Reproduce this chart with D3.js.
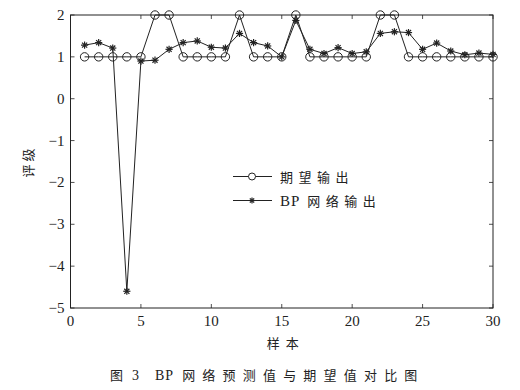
<!DOCTYPE html>
<html><head><meta charset="utf-8">
<script src="https://cdn.jsdelivr.net/npm/d3@7/dist/d3.min.js"></script>
<style>body{margin:0;background:#fff}svg{display:block}</style>
</head><body>
<script>
const samples = d3.range(1, 31);
const expected = [1,1,1,1,1,2,2,1,1,1,1,2,1,1,1,2,1,1,1,1,1,2,2,1,1,1,1,1,1,1];
const bpOutput = [1.28,1.34,1.21,-4.6,0.90,0.92,1.18,1.34,1.38,1.23,1.21,1.56,1.34,1.26,1.0,1.87,1.18,1.08,1.22,1.08,1.12,1.56,1.60,1.58,1.18,1.33,1.14,1.05,1.09,1.06];
const xTicks = [0,5,10,15,20,25,30];
const yTicks = [-5,-4,-3,-2,-1,0,1,2];
const legendLabels = ["期望输出","网络输出"];

const W=520,H=390;
const m={l:70.5,r:27,t:15,b:82};
const svg=d3.select("body").append("svg").attr("width",W).attr("height",H);
const x=d3.scaleLinear().domain([0,30]).range([m.l,W-m.r]);
const y=d3.scaleLinear().domain([-5,2]).range([H-m.b,m.t]);
const serif="'Liberation Serif','Times New Roman',serif";
const cjk="'Noto Sans CJK SC',sans-serif";
const col="#222";

svg.append("rect").attr("x",x(0)).attr("y",y(2)).attr("width",x(30)-x(0)).attr("height",y(-5)-y(2))
 .attr("fill","none").attr("stroke",col).attr("stroke-width",1);

const tl=4;
const g=svg.append("g").attr("stroke",col).attr("stroke-width",0.8);
xTicks.forEach(t=>{
  g.append("line").attr("x1",x(t)).attr("x2",x(t)).attr("y1",y(-5)).attr("y2",y(-5)-tl);
  g.append("line").attr("x1",x(t)).attr("x2",x(t)).attr("y1",y(2)).attr("y2",y(2)+tl);
});
yTicks.forEach(t=>{
  g.append("line").attr("x1",x(0)).attr("x2",x(0)+tl).attr("y1",y(t)).attr("y2",y(t));
  g.append("line").attr("x1",x(30)).attr("x2",x(30)-tl).attr("y1",y(t)).attr("y2",y(t));
});
svg.append("g").selectAll("text").data(xTicks).join("text")
 .attr("x",d=>x(d)).attr("y",y(-5)+18).attr("text-anchor","middle")
 .attr("font-family",serif).attr("font-size",15).attr("fill",col).text(d=>d);
svg.append("g").selectAll("text").data(yTicks).join("text")
 .attr("x",x(0)-6).attr("y",d=>y(d)+5).attr("text-anchor","end")
 .attr("font-family",serif).attr("font-size",15).attr("fill",col).text(d=>d<0?"\u2212"+(-d):d);

svg.append("text").attr("x",(x(0)+x(30))/2+4).attr("y",348).attr("text-anchor","middle")
 .attr("font-family",cjk).attr("font-size",13).attr("fill",col).attr("letter-spacing",6).text("样本");
svg.append("text").attr("transform",`translate(33,${(y(2)+y(-5))/2}) rotate(-90)`).attr("text-anchor","middle")
 .attr("font-family",cjk).attr("font-size",13).attr("fill",col).attr("letter-spacing",3).text("评级");

const cap=svg.append("text").attr("x",110).attr("y",380)
 .attr("font-size",13).attr("fill",col);
cap.append("tspan").attr("font-family",cjk).text("图");
cap.append("tspan").attr("font-family",serif).attr("font-size",14).attr("dx",9).text("3");
cap.append("tspan").attr("font-family",serif).attr("font-size",14).attr("dx",16).attr("letter-spacing",1).text("BP");
cap.append("tspan").attr("font-family",cjk).attr("dx",8).attr("letter-spacing",7.2).text("网络预测值与期望值对比图");

const line=d3.line().x((d,i)=>x(samples[i])).y(d=>y(d));
svg.append("path").datum(expected).attr("d",line).attr("fill","none").attr("stroke",col).attr("stroke-width",1);
svg.append("path").datum(bpOutput).attr("d",line).attr("fill","none").attr("stroke",col).attr("stroke-width",1);

function star(gg,cx,cy,r){
  const s=gg.append("g").attr("stroke",col).attr("stroke-width",1.2);
  [0,45,90,135].forEach(a=>{const rad=a*Math.PI/180;
    s.append("line").attr("x1",cx-r*Math.cos(rad)).attr("y1",cy-r*Math.sin(rad)).attr("x2",cx+r*Math.cos(rad)).attr("y2",cy+r*Math.sin(rad));});
}
const mk=svg.append("g");
expected.forEach((v,i)=>mk.append("circle").attr("cx",x(samples[i])).attr("cy",y(v)).attr("r",4.2).attr("fill","none").attr("stroke",col).attr("stroke-width",1));
bpOutput.forEach((v,i)=>star(mk,x(samples[i]),y(v),3.6));

const lg=svg.append("g");
const ly=[176.5,200.5];
lg.append("line").attr("x1",233).attr("x2",272).attr("y1",ly[0]).attr("y2",ly[0]).attr("stroke",col);
lg.append("circle").attr("cx",252).attr("cy",ly[0]).attr("r",3.5).attr("fill","#fff").attr("stroke",col);
lg.append("line").attr("x1",233).attr("x2",272).attr("y1",ly[1]).attr("y2",ly[1]).attr("stroke",col);
star(lg,252,ly[1],3);
lg.append("text").attr("x",280).attr("y",ly[0]+5).attr("font-family",cjk).attr("font-size",13).attr("fill",col).attr("letter-spacing",5.5).text(legendLabels[0]);
const t2=lg.append("text").attr("x",280).attr("y",ly[1]+5).attr("font-size",13).attr("fill",col);
t2.append("tspan").attr("font-family",serif).attr("font-size",15).attr("letter-spacing",1).text("BP");
t2.append("tspan").attr("font-family",cjk).attr("dx",7).attr("letter-spacing",5.5).text(legendLabels[1]);
</script>
</body></html>
